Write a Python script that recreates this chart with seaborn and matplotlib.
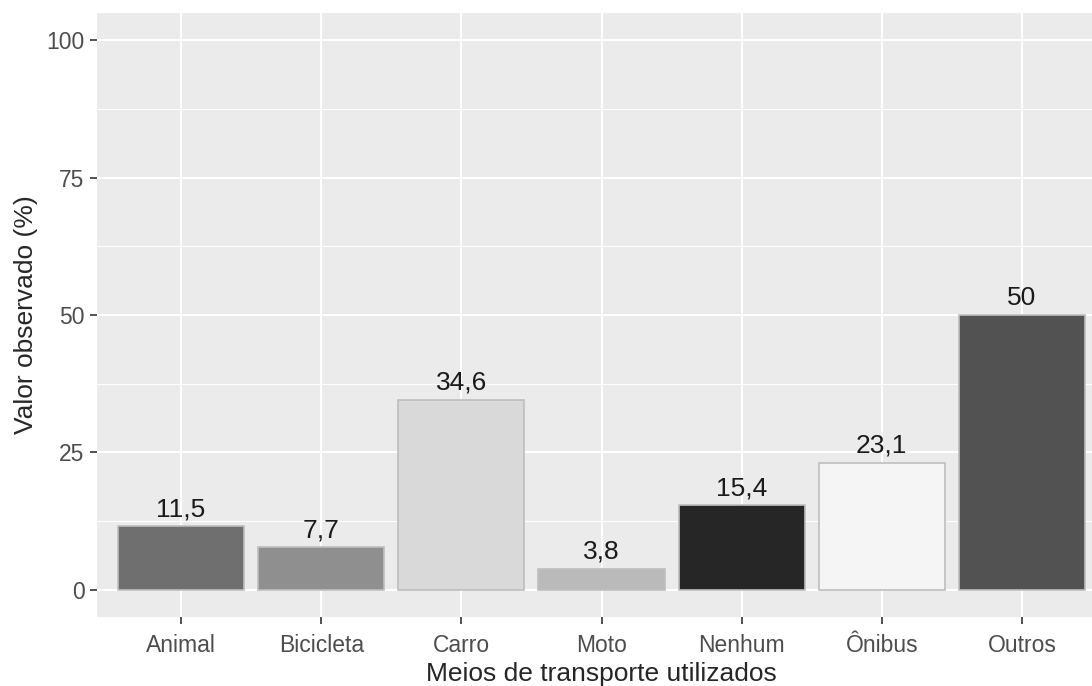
import pandas as pd
import matplotlib
matplotlib.use("Agg")
import matplotlib.pyplot as plt
import seaborn as sns

categorias = ['Animal', 'Bicicleta', 'Carro', 'Moto', 'Nenhum', 'Ônibus', 'Outros']
valores = [11.5, 7.7, 34.6, 3.8, 15.4, 23.1, 50.0]
rotulos = ['11,5', '7,7', '34,6', '3,8', '15,4', '23,1', '50']
cores = ['#6f6f6f', '#8f8f8f', '#d9d9d9', '#bababa', '#262626', '#f5f5f5', '#525252']

df = pd.DataFrame({'meio': categorias, 'valor': valores})

sns.set_style("darkgrid", {"axes.facecolor": "#ebebeb", "grid.color": "white"})
plt.rcParams['font.family'] = ['Liberation Sans', 'DejaVu Sans']

fig = plt.figure(figsize=(10.92, 6.86), dpi=100)
ax = fig.add_axes([97 / 1092, 69 / 686, 1009 / 1092, 604 / 686])

sns.barplot(data=df, x='meio', y='valor', hue='meio', palette=cores,
            width=0.9, edgecolor='#bebebe', linewidth=1.2, legend=False, ax=ax,
            zorder=3)

for cont, lab in zip(ax.containers, rotulos):
    ax.bar_label(cont, labels=[lab], padding=3.5, fontsize=19, color='#1a1a1a')

ax.set_xlim(-0.6, 6.6)
ax.set_ylim(-5, 105)
ax.set_yticks([0, 25, 50, 75, 100])
ax.set_yticks([12.5, 37.5, 62.5, 87.5], minor=True)
ax.grid(which='major', color='white', linewidth=1.5)
ax.grid(which='minor', axis='y', color='white', linewidth=0.8)
ax.set_axisbelow(True)
for s in ax.spines.values():
    s.set_visible(False)

ax.tick_params(axis='both', which='major', labelsize=16.5, labelcolor='#4d4d4d',
               length=5, width=1.2, color='#333333', left=True, bottom=True)
ax.tick_params(axis='x', which='major', pad=7)
ax.tick_params(axis='y', which='major', pad=4)
ax.tick_params(axis='y', which='minor', length=0)

ax.set_xlabel("Meios de transporte utilizados", fontsize=19, labelpad=4)
ax.set_ylabel("Valor observado (%)", fontsize=19, labelpad=6)

fig.savefig("out.png", dpi=100)
